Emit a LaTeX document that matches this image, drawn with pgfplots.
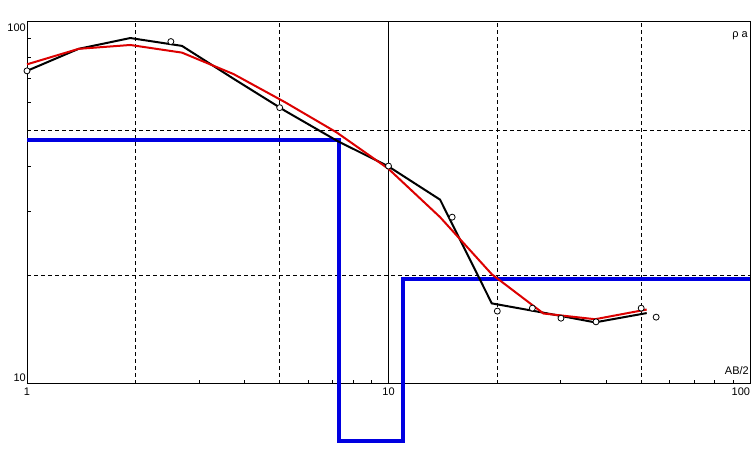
\documentclass[border=0pt]{standalone}
\usepackage{fontspec}
\setmainfont{Liberation Sans}
\usepackage{pgfplots}
\pgfplotsset{compat=1.18}
\definecolor{vred}{RGB}{220,0,0}
\definecolor{vblue}{RGB}{0,0,225}
\pgfplotstableread{
x y
1 47.2
7.29 47.2
7.29 6.97
10.95 6.97
10.95 19.55
100 19.55
}\modeltab
\pgfplotstableread{
x y
1 73.3
1.389 84.3
1.931 90.3
2.683 85.9
3.728 69.7
5.179 56.8
7.197 47.0
10 39.9
13.89 32.3
19.31 16.7
26.83 15.74
37.28 14.8
51.79 15.7
}\fieldtab
\pgfplotstableread{
x y
1 76.4
1.389 84.3
1.931 86.4
2.683 82.3
3.728 71.8
5.179 60.0
7.197 49.5
10 39.3
13.89 28.9
19.31 20.1
26.83 15.66
37.28 15.1
51.79 16.06
}\calctab
\pgfplotstableread{
x y
1 73.3
2.5 88.3
5 58
10 40
15 28.9
20 15.9
25 16.2
30 15.2
37.5 14.85
50 16.2
55 15.3
}\pointtab
\begin{document}
\fontsize{11bp}{13bp}\selectfont
\begin{tikzpicture}
\begin{loglogaxis}[
  width=723bp, height=362bp, scale only axis,
  xmin=1, xmax=100, ymin=10, ymax=100,
  clip=false,
  axis line style={line width=1bp},
  tick align=inside,
  xtick pos=left, ytick pos=left,
  xtick={1,10,100}, xticklabels={1,10,{\makebox[0pt][r]{100}}},
  ytick={10,100}, yticklabels={{\raisebox{2bp}{10}},{\raisebox{-10bp}{100}}},
  xticklabel style={anchor=base, inner sep=0pt, yshift=-11.5bp},
  yticklabel style={anchor=base east, inner sep=0pt, xshift=-1bp},
  major tick length=5bp, minor tick length=4bp,
  every tick/.style={black, line width=1bp},
  extra x ticks={2,5,20,50}, extra x tick labels={},
  extra x tick style={grid=major, major tick length=0pt},
  extra y ticks={20,50}, extra y tick labels={},
  extra y tick style={grid=major, major tick length=0pt},
  major grid style={black, line width=1bp, dash pattern=on 4bp off 3bp},
]
\coordinate (sw) at (rel axis cs:0,0);
\coordinate (ne) at (rel axis cs:1,1);
\draw[black, line width=1bp] (axis cs:10,10) -- (axis cs:10,100);
\addplot[vblue, line width=4bp, line join=miter] table[x=x,y=y] {\modeltab};
\addplot[black, line width=2bp] table[x=x,y=y] {\fieldtab};
\addplot[only marks, mark=*, mark size=3bp, mark options={fill=white, draw=black, line width=0.8bp}] table[x=x,y=y] {\pointtab};
\addplot[vred, line width=2bp] table[x=x,y=y] {\calctab};
\node[anchor=base east, inner sep=0pt, xshift=-2bp, yshift=-16bp] at (rel axis cs:1,1) {ρ a};
\node[anchor=base east, inner sep=0pt, xshift=-1bp, yshift=9bp] at (rel axis cs:1,0) {AB/2};
\end{loglogaxis}
\path (sw) ++(-27bp,-79bp) coordinate (a);
\path (ne) ++(3bp,22bp) coordinate (b);
\path (a) rectangle (b);
\end{tikzpicture}
\end{document}
